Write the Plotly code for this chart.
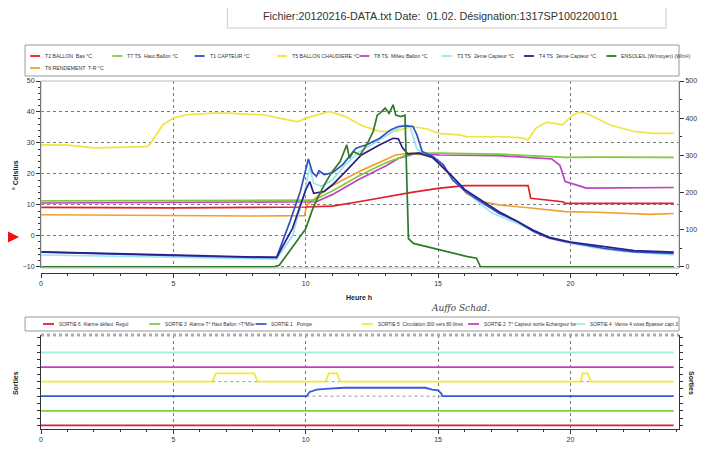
import plotly.graph_objects as go

# ---- main panel: temperatures (hour, °C) ----
T2_H = [0, 5, 10, 11, 12, 13, 14, 15, 16, 18.4, 18.5, 19.7, 19.8, 23.9]
T2_V = [9.2, 9.0, 9.3, 9.6, 11.0, 12.6, 14.0, 15.3, 16.2, 16.2, 12.1, 11.0, 10.5, 10.5]

T7_H = [0, 5, 10, 10.3, 11, 12, 13, 13.9, 14.3, 15, 17.3, 18.6, 19.8, 21, 23.9]
T7_V = [11.3, 11.3, 11.4, 11.5, 14.5, 19.3, 23.5, 26.3, 26.7, 26.7, 26.4, 25.9, 25.3, 25.4, 25.3]

T1_H = [0, 2, 4, 6, 8, 8.9, 9.4, 9.8, 10.1, 10.25, 10.4, 10.5, 10.7, 11.0, 11.4, 11.9, 12.3,
        12.8, 13.2, 13.5, 13.8, 14.05, 14.2, 14.4, 14.8, 15.2, 15.55, 16.05, 16.7, 17.3, 18.0,
        18.6, 19.2, 19.8, 20.6, 21.3, 22.4, 23.9]
T1_V = [-5.3, -5.8, -6.2, -6.6, -7.0, -7.0, 4.5, 14.5, 24.8, 20.5, 19.2, 21.0, 19.8, 20.3, 23.0,
        28.3, 29.4, 31.5, 34.2, 35.3, 35.5, 35.3, 32.6, 27.2, 25.6, 22.9, 18.0, 14.2, 10.5, 7.3,
        4.6, 1.4, -0.8, -1.9, -3.0, -4.1, -5.2, -5.7]

T5_H = [0, 1, 2, 3, 4.0, 4.1, 4.6, 5.0, 5.5, 6.5, 7.1, 7.75, 8.4, 9.0, 9.7, 10.0, 10.9, 11.5,
        12.15, 12.8, 13.4, 14.0, 14.6, 15.0, 15.8, 16.1, 17.3, 18.1, 18.4, 18.7, 19.1, 19.7,
        20.1, 20.35, 20.6, 21.5, 22.4, 23.1, 23.9]
T5_V = [29.4, 29.3, 28.4, 28.6, 28.8, 29.4, 35.8, 38.0, 39.1, 39.6, 39.6, 39.3, 39.1, 38.0, 36.8,
        38.0, 40.2, 38.5, 35.5, 33.7, 33.8, 35.3, 34.5, 33.1, 32.6, 32.0, 32.0, 31.7, 31.0, 34.8,
        36.7, 35.8, 39.1, 39.9, 39.6, 35.8, 33.7, 33.1, 33.1]

T8_H = [0, 5, 10, 10.4, 11, 12, 13, 13.5, 14.2, 15, 17.3, 19.3, 19.6, 19.8, 20.3, 20.6, 23.9]
T8_V = [10.6, 10.8, 10.8, 11.0, 13.3, 18.2, 22.5, 25.0, 26.7, 26.1, 25.9, 24.8, 22.8, 17.5,
        16.2, 15.4, 15.6]

T3_H = [0, 4, 8.9, 9.5, 9.9, 10.15, 10.3, 10.6, 11, 11.5, 12, 12.5, 13, 13.5, 13.75, 13.95,
        14.2, 14.5, 15, 15.5, 16, 17, 18, 19, 20, 21, 22, 23.9]
T3_V = [-6.2, -6.8, -7.5, 0, 12, 22, 17, 16, 18, 23, 27, 29.5, 32, 34.5, 36, 35, 28, 26.5, 24.5,
        19, 14.5, 7.5, 4, 0, -2.5, -4, -5, -6.2]

T4_H = [0, 4, 8.9, 9.5, 10.0, 10.15, 10.3, 10.7, 11.0, 11.5, 12.1, 12.8, 13.3, 13.5, 13.65,
        13.85, 14.3, 14.8, 15.5, 16, 16.7, 17.3, 18, 18.6, 19.2, 20, 21, 22.4, 23.9]
T4_V = [-5.2, -6.0, -7.0, 2.4, 14.8, 17.5, 13.7, 14.3, 16.4, 20.7, 26.1, 29.4, 31.5, 31.3, 28.5,
        26.5, 26.7, 25.2, 19.5, 15, 11, 7.8, 4.6, 1.8, -0.5, -2.0, -3.2, -4.8, -5.3]

T6_H = [0, 5, 8, 9.95, 10.05, 10.9, 12.15, 13.4, 14.0, 14.8, 15.2, 15.55, 16.1, 16.7, 17.3,
        18.6, 19.8, 21, 23, 23.9]
T6_V = [6.8, 6.5, 6.4, 6.5, 10.0, 15.8, 21.3, 26.1, 26.7, 25.6, 21.8, 18.6, 13.5, 11.0, 10.0,
        8.9, 7.8, 7.6, 6.9, 7.2]

# solar irradiance (W/m², right axis)
SUN_H = [0, 8.8, 9.0, 9.38, 9.76, 10.0, 10.27, 10.5, 10.77, 11.0, 11.3, 11.55, 11.65, 11.8,
         12.05, 12.3, 12.55, 12.7, 12.8, 13.0, 13.15, 13.3, 13.4, 13.6, 13.75, 13.88, 14.07,
         14.8, 15.55, 16.07, 16.45, 16.6, 23.9]
SUN_W = [0, 0, 4, 40, 76, 102, 157, 193, 229, 256, 283, 328, 292, 310, 301, 328, 364, 408, 413,
         427, 413, 436, 408, 404, 408, 76, 63, 50, 38, 28, 23, 0, 0]

# ---- bottom panel: outputs (stacked levels) ----
S6_H = [0, 23.9]
S6_V = [0, 0]
S3_H = [0, 23.9]
S3_V = [1, 1]
S1_H = [0, 10.03, 10.15, 10.41, 10.75, 11.44, 14.52, 14.78, 15.0, 15.12, 15.17, 23.9]
S1_V = [2, 2, 2.29, 2.45, 2.51, 2.58, 2.58, 2.45, 2.4, 2.18, 2, 2]
S5_H = [0, 6.47, 6.61, 8.05, 8.18, 10.75, 10.87, 11.18, 11.3, 20.38, 20.46, 20.65, 20.77, 23.9]
S5_V = [3, 3, 3.56, 3.56, 3, 3, 3.56, 3.56, 3, 3, 3.56, 3.56, 3, 3]
S2_H = [0, 23.9]
S2_V = [4, 4]
S4_H = [0, 23.9]
S4_V = [5, 5]

MAIN_NAMES = ["T2 BALLON  Bas °C", "T7 TS  Haut Ballon °C", "T1 CAPTEUR °C",
              "T5 BALLON CHAUDIERE °C", "T8 TS  Milieu Ballon °C", "T3 TS  2ème Capteur °C",
              "T4 TS  3ème Capteur °C", "ENSOLEIL (W/moyen) (W/m²)", "T6 RENDEMENT  T-R °C"]
MAIN_COLORS = ["#e0202a", "#7dcc3a", "#3050c8", "#efe440", "#c040c8", "#9be6ee",
               "#2a1f8a", "#2e7a2a", "#f0a030"]

OUT_NAMES = ["SORTIE 6  Alarme défaut  Regul", "SORTIE 3  Alarme T° Haut Ballon >T°Mlie",
             "SORTIE 1   Pompe", "SORTIE 5  Circulation 300 vers 80 litres",
             "SORTIE 2  T° Capteur sortie Echangeur bs", "SORTIE 4  Vanne 4 voies Bpasser capt 3"]
OUT_COLORS = ["#e02030", "#7ed040", "#3a5ad0", "#f2e640", "#c040c0", "#a8eee8"]

TITLE = "Fichier:20120216-DATA.txt Date:  01.02. Désignation:1317SP1002200101"

# the page has an 8px body margin, so the figure is 8px smaller than the window
W, H = 701, 451
ML, MR, MT, MB = 33, 28, 73, 30
PW, PH = W - ML - MR, H - MT - MB
FONT = "Liberation Sans, Arial"


def px_x(px):
    # window pixel -> paper x
    return (px - 8 - ML) / PW


def px_y(py):
    # window pixel -> paper y
    return (H - MB - (py - 8)) / PH


def base_runs(xs, ys, base):
    # dotted baseline under the raised parts of an output signal
    bx, by = [], []
    start = None
    for i, v in enumerate(ys):
        if v > base + 0.01 and start is None:
            start = xs[i - 1]
        elif v <= base + 0.01 and start is not None:
            bx += [start, xs[i], None]
            by += [base, base, None]
            start = None
    return bx, by


fig = go.Figure()

main_series = [
    (T5_H, T5_V, 3), (T6_H, T6_V, 8), (T2_H, T2_V, 0), (T8_H, T8_V, 4),
    (T7_H, T7_V, 1), (T3_H, T3_V, 5), (T1_H, T1_V, 2), (T4_H, T4_V, 6),
]
for hs, vs, idx in main_series:
    fig.add_trace(go.Scatter(x=hs, y=vs, mode="lines", name=MAIN_NAMES[idx],
                             line=dict(color=MAIN_COLORS[idx], width=1.7),
                             xaxis="x", yaxis="y"))

fig.add_trace(go.Scatter(x=SUN_H, y=SUN_W, mode="lines", name=MAIN_NAMES[7],
                         line=dict(color=MAIN_COLORS[7], width=1.7),
                         xaxis="x", yaxis="y2"))

out_series = [(S6_H, S6_V, 0), (S3_H, S3_V, 1), (S1_H, S1_V, 2),
              (S5_H, S5_V, 3), (S2_H, S2_V, 4), (S4_H, S4_V, 5)]
for hs, vs, idx in out_series:
    bx, by = base_runs(hs, vs, vs[0])
    if bx:
        fig.add_trace(go.Scatter(x=bx, y=by, mode="lines", showlegend=False,
                                 line=dict(color="#999", width=1, dash="dot"),
                                 xaxis="x2", yaxis="y3"))
    fig.add_trace(go.Scatter(x=hs, y=vs, mode="lines", name=OUT_NAMES[idx],
                             line=dict(color=OUT_COLORS[idx], width=1.8),
                             xaxis="x2", yaxis="y3"))

axis_common = dict(showline=True, linecolor="#333", linewidth=1, ticks="outside",
                   tickcolor="#333", ticklen=4, zeroline=False,
                   tickfont=dict(size=7, color="#333", family=FONT))

shapes = []
annotations = []

main_bottom = 268  # window pixel of the main plot's lower edge (a bit below -10)

# frames / boxes
shapes.append(dict(type="rect", xref="paper", yref="paper", x0=0, x1=1,
                   y0=px_y(main_bottom), y1=px_y(81), line=dict(color="#bbb", width=1)))
shapes.append(dict(type="line", xref="paper", yref="paper", x0=0, x1=1,
                   y0=px_y(335), y1=px_y(335), line=dict(color="#aaa", width=3, dash="dot")))
shapes.append(dict(type="rect", xref="paper", yref="paper", x0=px_x(228), x1=px_x(668),
                   y0=px_y(28), y1=px_y(3), line=dict(color="#ccc", width=1)))
shapes.append(dict(type="line", xref="paper", yref="paper", x0=px_x(228), x1=px_x(668),
                   y0=px_y(3), y1=px_y(3), line=dict(color="#666", width=2)))
shapes.append(dict(type="rect", xref="paper", yref="paper", x0=px_x(25), x1=px_x(681),
                   y0=px_y(76), y1=px_y(45), line=dict(color="#999", width=1)))
shapes.append(dict(type="rect", xref="paper", yref="paper", x0=px_x(25), x1=px_x(681),
                   y0=px_y(331), y1=px_y(317), line=dict(color="#999", width=1)))

# hand-drawn legends (short line samples, like the original printout)
for i, (name, col) in enumerate(zip(MAIN_NAMES, MAIN_COLORS)):
    row, col_i = (0, i) if i < 8 else (1, 0)
    x0 = 30 + col_i * 82.6
    yy = 56 if row == 0 else 68
    shapes.append(dict(type="line", xref="paper", yref="paper", x0=px_x(x0), x1=px_x(x0 + 10),
                       y0=px_y(yy), y1=px_y(yy), line=dict(color=col, width=1.8)))
    annotations.append(dict(text=name, xref="paper", yref="paper", x=px_x(x0 + 13), y=px_y(yy),
                            xanchor="left", yanchor="middle", showarrow=False,
                            font=dict(size=5.2, color="#333", family=FONT)))
for i, (name, col) in enumerate(zip(OUT_NAMES, OUT_COLORS)):
    x0 = 43 + i * 106.6
    yy = 324
    shapes.append(dict(type="line", xref="paper", yref="paper", x0=px_x(x0), x1=px_x(x0 + 11),
                       y0=px_y(yy), y1=px_y(yy), line=dict(color=col, width=1.8)))
    annotations.append(dict(text=name, xref="paper", yref="paper", x=px_x(x0 + 14), y=px_y(yy),
                            xanchor="left", yanchor="middle", showarrow=False,
                            font=dict(size=4.8, color="#333", family=FONT)))

lab_font = dict(size=7, color="#222", family=FONT)
centre = dict(xref="paper", yref="paper", xanchor="center", yanchor="middle", showarrow=False)
annotations += [
    dict(centre, text=TITLE, x=px_x(442), y=px_y(16),
         font=dict(size=10.8, color="#333", family=FONT)),
    dict(centre, text="<b>° Celsius</b>", x=px_x(15), y=px_y(175), textangle=-90, font=lab_font),
    dict(centre, text="<b>Heure h</b>", x=px_x(360), y=px_y(297), font=lab_font),
    dict(centre, text="<b>Sorties</b>", x=px_x(15), y=px_y(383), textangle=-90, font=lab_font),
    dict(centre, text="<b>Sorties</b>", x=px_x(694), y=px_y(383), textangle=90, font=lab_font),
    dict(centre, text="<i>Auffo Schad.</i>", x=px_x(462), y=px_y(308),
         font=dict(size=9, color="#444", family="DejaVu Serif")),
    dict(text="", xref="paper", yref="paper", x=px_x(19), y=px_y(237), ax=-12, ay=0,
         showarrow=True, arrowhead=2, arrowsize=1.1, arrowwidth=5, arrowcolor="#f01010"),
]

# extend the lower limits a little so the zero-irradiance line is not clipped,
# keeping -10 °C aligned with 0 W/m²
y_lo = -10.4
y2_lo = (y_lo + 10) * 500 / 60

fig.update_layout(
    width=W, height=H,
    margin=dict(l=ML, r=MR, t=MT, b=MB),
    paper_bgcolor="white", plot_bgcolor="white",
    showlegend=False,
    font=dict(family=FONT, color="#333"),
    xaxis=dict(axis_common, domain=[0, 1], anchor="free", position=px_y(273),
               range=[0, 24.1], tick0=0, dtick=5, showgrid=True, gridcolor="#777",
               griddash="dot", gridwidth=1,
               minor=dict(dtick=1, ticks="outside", ticklen=2, tickcolor="#333",
                          showgrid=False)),
    yaxis=dict(axis_common, domain=[px_y(main_bottom), px_y(81)], anchor="x", range=[y_lo, 50],
               tick0=0, dtick=10, showgrid=True, gridcolor="#777", griddash="dot", gridwidth=1,
               minor=dict(tick0=0, dtick=2, ticks="outside", ticklen=2, tickcolor="#333",
                          showgrid=False)),
    yaxis2=dict(axis_common, overlaying="y", side="right", anchor="x", range=[y2_lo, 500],
                tick0=0, dtick=100, showgrid=False,
                minor=dict(tick0=0, dtick=50, ticks="outside", ticklen=2, tickcolor="#333")),
    xaxis2=dict(axis_common, domain=[0, 1], anchor="y3", range=[0, 24.1], tick0=0, dtick=5,
                showgrid=True, gridcolor="#777", griddash="dot", gridwidth=1,
                minor=dict(dtick=1, ticks="outside", ticklen=2, tickcolor="#333",
                           showgrid=False)),
    yaxis3=dict(axis_common, domain=[0, px_y(335)], anchor="x2", range=[-0.25, 6.2],
                tick0=0, dtick=0.5, showticklabels=False, showgrid=False, mirror="ticks",
                ticklen=3),
    shapes=shapes,
    annotations=annotations,
)

fig.write_html("out.html")
